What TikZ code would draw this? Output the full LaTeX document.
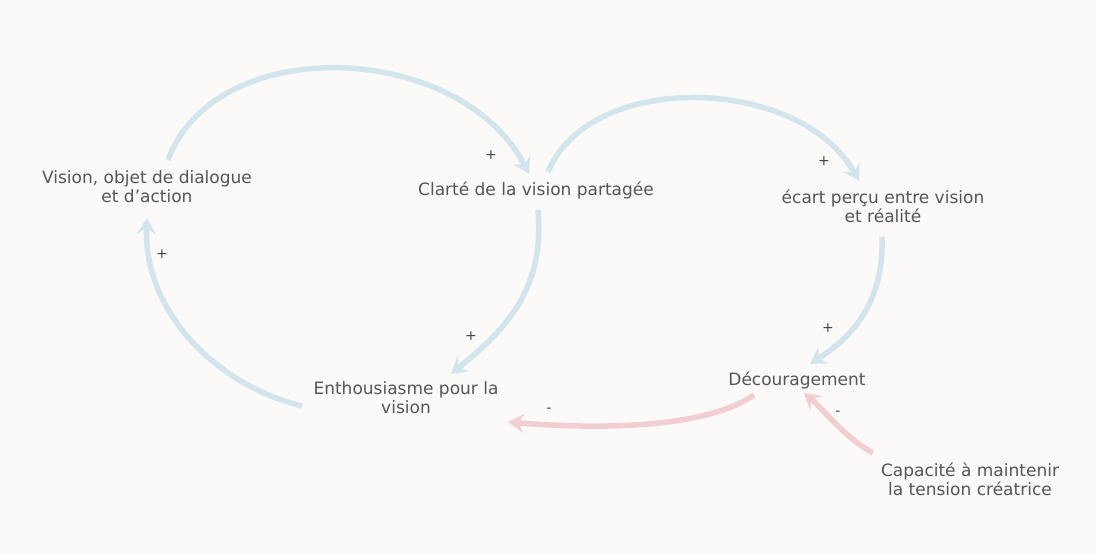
\documentclass[tikz,border=0pt]{standalone}
\usepackage{fontspec}
\setmainfont{DejaVu Sans}
\usetikzlibrary{arrows.meta}
\definecolor{bg}{HTML}{FBFAF8}
\definecolor{txt}{HTML}{555555}
\definecolor{lblue}{HTML}{D2E5ED}
\definecolor{lpink}{HTML}{F2CDD2}
\tikzset{
  var/.style={text=txt, font=\fontsize{17}{19}\selectfont, align=center, inner sep=2pt},
  sgn/.style={text=txt!80!black, font=\fontsize{14}{14}\selectfont, inner sep=1pt},
  plink/.style={draw=lblue, line width=5.5pt, -{Stealth[length=16pt,width=19pt,inset=6pt]}},
  nlink/.style={draw=lpink, line width=5.5pt, -{Stealth[length=16pt,width=19pt,inset=6pt]}},
}
\begin{document}
\begin{tikzpicture}[x=1pt,y=-1pt]
\fill[bg] (0,0) rectangle (1096,554);
\useasboundingbox (0,0) rectangle (1096,554);

\node[var] (vis) at (147,187) {Vision, objet de dialogue\\et d'action};
\node[var] (cla) at (536,190) {Clarté de la vision partagée};
\node[var] (eca) at (883,206) {écart perçu entre vision\\et réalité};
\node[var] (dec) at (797,380) {Découragement};
\node[var] (ent) at (406,398) {Enthousiasme pour la\\vision};
\node[var] (cap) at (970,479) {Capacité à maintenir\\la tension créatrice};

\coordinate (a1s) at (168,160);
\coordinate (a1e) at (529,174);
\coordinate (a2s) at (548,172);
\coordinate (a2e) at (859,181);
\coordinate (a3s) at (538,210);
\coordinate (a3e) at (451,374);
\coordinate (a4s) at (882,237);
\coordinate (a4e) at (810,364);
\coordinate (a5s) at (302,406);
\coordinate (a5e) at (147,218);
\coordinate (a6s) at (754,395);
\coordinate (a6e) at (508,422);
\coordinate (a7s) at (873,453);
\coordinate (a7e) at (804,393);

\draw[plink] (a1s) .. controls (215,32) and (460,40) .. (a1e);
\draw[plink] (a2s) .. controls (590,70) and (800,75) .. (a2e);
\draw[plink] (a3s) .. controls (545,290) and (505,330) .. (a3e);
\draw[plink] (a4s) .. controls (884,300) and (855,335) .. (a4e);
\draw[plink] (a5s) .. controls (215,385) and (143,310) .. (a5e);
\draw[nlink] (a6s) .. controls (700,432) and (580,428) .. (a6e);
\draw[nlink] (a7s) .. controls (845,438) and (822,408) .. (a7e);

\node[sgn] (s1) at (491,155) {+};
\node[sgn] (s2) at (824,161) {+};
\node[sgn] (s3) at (471,336) {+};
\node[sgn] (s4) at (828,328) {+};
\node[sgn] (s5) at (162,254) {+};
\node[sgn] (s6) at (549,410) {-};
\node[sgn] (s7) at (838,413) {-};
\end{tikzpicture}
\end{document}
